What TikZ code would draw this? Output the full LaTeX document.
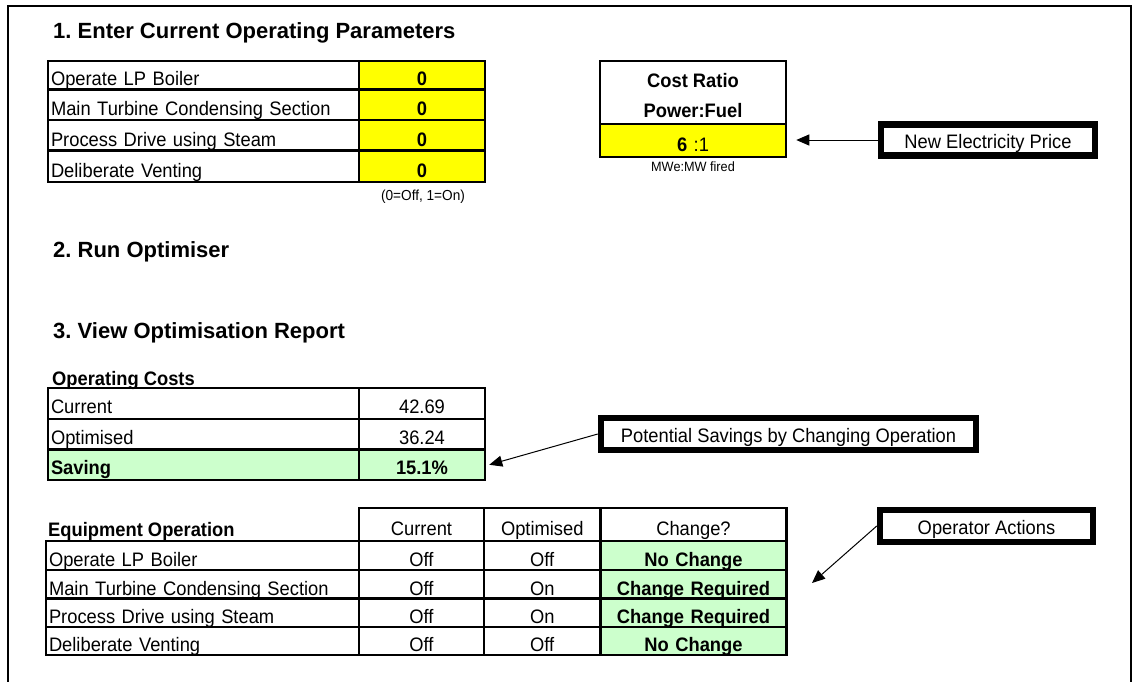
\documentclass[tikz,border=0pt]{standalone}
\usepackage{fontspec}
\setmainfont{Liberation Sans}
\newfontfamily\cellfont{Liberation Sans}[FakeStretch=0.94]
\usetikzlibrary{arrows.meta}
\definecolor{cellyellow}{HTML}{FFFF00}
\definecolor{cellgreen}{HTML}{CCFFCC}
\frenchspacing

\tikzset{
  head/.style={font=\fontsize{22}{26}\selectfont\bfseries, inner sep=0pt, anchor=base west},
  body/.style={font=\cellfont\fontsize{19.5}{22}\selectfont},
  bodybf/.style={font=\cellfont\fontsize{19.5}{22}\selectfont\bfseries},
  note/.style={font=\cellfont\fontsize{14.5}{17}\selectfont, inner sep=0pt, anchor=base},
  cellbox/.style={draw, line width=2.5pt, inner xsep=3pt, inner ysep=0pt, text depth=0pt},
  tagbox/.style={draw, line width=6.5pt, fill=white, inner sep=0pt, text height=16pt, text depth=0pt,
    font=\cellfont\fontsize{19.5}{22}\selectfont},
  arr/.style={-{Triangle[length=13pt,width=11pt]}, line width=1pt},
  frame/.style={line width=2pt},
}

% table cell: name, x1, y1, x2, y2, baseline offset from bottom, style, text
\newcommand\cellnode[8]{%
  \pgfmathsetmacro\cellw{#4-#2-6}%
  \pgfmathsetmacro\cellh{#5-#3}%
  \pgfmathsetmacro\cellt{#5-#3-2*#6}%
  \node[cellbox, text width=\cellw pt, minimum height=\cellh pt, text height=\cellt pt, #7] (#1) at ({(#2+#4)/2},{(#3+#5)/2}) {#8};}

\begin{document}
\begin{tikzpicture}[x=1pt,y=-1pt]
\useasboundingbox (0,0) rectangle (1134,681);

% outer frame
\draw[frame] (8,690) -- (8,6) -- (1131,6) -- (1131,690);

% section headings
\node[head] (h1) at (53,38.5) {1. Enter Current Operating Parameters};
\node[head] (h2) at (53,257) {2. Run Optimiser};
\node[head] (h3) at (53,338) {3. View Optimisation Report};

% operating parameters input
\cellnode{p1}{48}{61}{359}{89.5}{4.5}{body, align=left}{Operate LP Boiler}
\cellnode{p1v}{359}{61}{485}{89.5}{4.5}{bodybf, align=center, fill=cellyellow}{0}
\cellnode{p2}{48}{89.5}{359}{120}{4.5}{body, align=left}{Main Turbine Condensing Section}
\cellnode{p2v}{359}{89.5}{485}{120}{4.5}{bodybf, align=center, fill=cellyellow}{0}
\cellnode{p3}{48}{120}{359}{150.5}{4.5}{body, align=left}{Process Drive using Steam}
\cellnode{p3v}{359}{120}{485}{150.5}{4.5}{bodybf, align=center, fill=cellyellow}{0}
\cellnode{p4}{48}{150.5}{359}{182}{4.5}{body, align=left}{Deliberate Venting}
\cellnode{p4v}{359}{150.5}{485}{182}{4.5}{bodybf, align=center, fill=cellyellow}{0}
\node[note] (onoff) at (423,200) {(0=Off, 1=On)};

% cost ratio
\node[cellbox, minimum width=186pt, minimum height=63pt] (crh) at (693,92.5) {};
\node[bodybf, anchor=base, inner sep=0pt] (crt1) at (693,87) {Cost Ratio};
\node[bodybf, anchor=base, inner sep=0pt] (crt2) at (693,117) {Power:Fuel};
\cellnode{crv}{600}{124}{786}{157}{5.5}{body, align=center, fill=cellyellow}{\textbf{6} :1}
\node[note, font=\cellfont\fontsize{13.5}{16}\selectfont] (crunit) at (693,171) {MWe:MW fired};

\node[tagbox, minimum width=214pt, minimum height=31pt] (nep) at (988,140) {New Electricity Price};
\draw[arr, shorten >=9pt] (nep.west) -- (nep.west -| crv.east);

% operating costs
\node[bodybf, anchor=base west, inner sep=0pt] (oc) at (52,385) {Operating Costs};
\cellnode{c1}{48}{388}{359}{419}{5.5}{body, align=left}{Current}
\cellnode{c1v}{359}{388}{485}{419}{5.5}{body, align=center}{42.69}
\cellnode{c2}{48}{419}{359}{449.5}{5.5}{body, align=left}{Optimised}
\cellnode{c2v}{359}{419}{485}{449.5}{5.5}{body, align=center}{36.24}
\cellnode{c3}{48}{449.5}{359}{480}{5.5}{bodybf, align=left, fill=cellgreen}{Saving}
\cellnode{savv}{359}{449.5}{485}{480}{5.5}{bodybf, align=center, fill=cellgreen}{15.1\%}

\node[tagbox, minimum width=375pt, minimum height=32pt] (ps) at (788.5,434) {Potential Savings by Changing Operation};
\draw[arr] (ps.west) -- ([xshift=3pt]savv.east);

% equipment operation
\node[bodybf, anchor=base west, inner sep=0pt] (eo) at (48,536) {Equipment Operation};
\cellnode{hc}{359}{508}{484}{541}{6}{body, align=center}{Current}
\cellnode{ho}{484}{508}{600.5}{541}{6}{body, align=center}{Optimised}
\cellnode{hx}{600.5}{508}{786.5}{541}{6}{body, align=center}{Change?}

\cellnode{e1}{46}{541}{359}{570}{3.5}{body, align=left}{Operate LP Boiler}
\cellnode{e1c}{359}{541}{484}{570}{3.5}{body, align=center}{Off}
\cellnode{e1o}{484}{541}{600.5}{570}{3.5}{body, align=center}{Off}
\cellnode{e1x}{600.5}{541}{786.5}{570}{3.5}{bodybf, align=center, fill=cellgreen}{No Change}

\cellnode{e2}{46}{570}{359}{598.5}{3.5}{body, align=left}{Main Turbine Condensing Section}
\cellnode{e2c}{359}{570}{484}{598.5}{3.5}{body, align=center}{Off}
\cellnode{e2o}{484}{570}{600.5}{598.5}{3.5}{body, align=center}{On}
\cellnode{e2x}{600.5}{570}{786.5}{598.5}{3.5}{bodybf, align=center, fill=cellgreen}{Change Required}

\cellnode{e3}{46}{598.5}{359}{627}{3.5}{body, align=left}{Process Drive using Steam}
\cellnode{e3c}{359}{598.5}{484}{627}{3.5}{body, align=center}{Off}
\cellnode{e3o}{484}{598.5}{600.5}{627}{3.5}{body, align=center}{On}
\cellnode{e3x}{600.5}{598.5}{786.5}{627}{3.5}{bodybf, align=center, fill=cellgreen}{Change Required}

\cellnode{e4}{46}{627}{359}{655}{3.5}{body, align=left}{Deliberate Venting}
\cellnode{e4c}{359}{627}{484}{655}{3.5}{body, align=center}{Off}
\cellnode{e4o}{484}{627}{600.5}{655}{3.5}{body, align=center}{Off}
\cellnode{e4x}{600.5}{627}{786.5}{655}{3.5}{bodybf, align=center, fill=cellgreen}{No Change}

\node[tagbox, minimum width=213pt, minimum height=32pt] (oa) at (986.5,526) {Operator Actions};
\coordinate (oatip) at (812,583);
\draw[arr] (oa.west) -- (oatip);
\end{tikzpicture}
\end{document}
